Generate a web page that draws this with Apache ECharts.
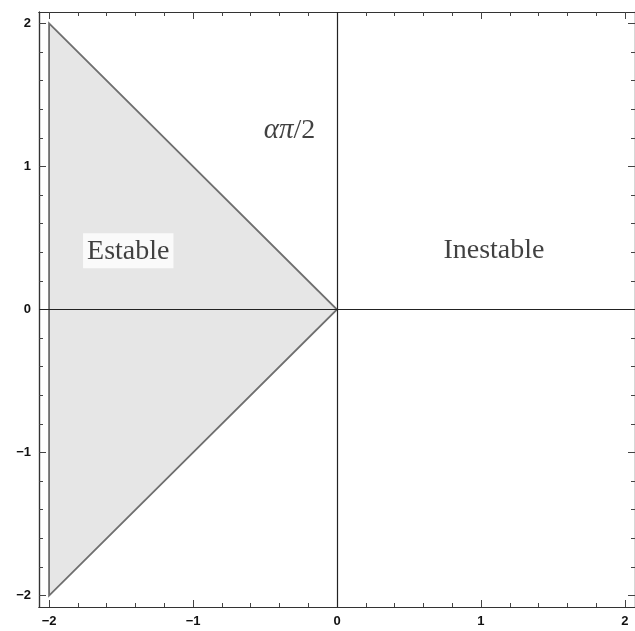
<!DOCTYPE html>
<html>
<head>
<meta charset="utf-8">
<script src="https://cdn.jsdelivr.net/npm/echarts@6/dist/echarts.min.js"></script>
<style>
  html, body { margin: 0; padding: 0; background: #ffffff; }
  #chart { width: 635px; height: 631px; }
</style>
</head>
<body>
<div id="chart"></div>
<script>
// Axis extents and ticks
const xRange = [-2.07, 2.07];
const yRange = [-2.08, 2.08];
const majorTicks = [-2, -1, 0, 1, 2];
const minorTicks = [-1.8, -1.6, -1.4, -1.2, -0.8, -0.6, -0.4, -0.2,
                    0.2, 0.4, 0.6, 0.8, 1.2, 1.4, 1.6, 1.8];

// Stability region: triangle with vertices (-2,2), (0,0), (-2,-2)
const regionX = [-2, 0, -2];
const regionY = [2, 0, -2];

// Text annotations placed in data coordinates
const noteText = ['Estable', 'Inestable', '{it|απ}{up|/2}'];
const noteX = [-1.45, 1.09, -0.33];
const noteY = [0.41, 0.41, 1.25];

const fmt = v => (v < 0 ? '\u2212' + Math.abs(v) : String(v));
const tickColor = '#444';
const labelStyle = { fontFamily: 'Liberation Sans', fontWeight: 'bold', fontSize: 13, color: '#111' };

function xAxisDef(position, ticks, len, showLabel) {
  return {
    type: 'value', min: xRange[0], max: xRange[1], position: position,
    axisLine: { show: true, onZero: false, lineStyle: { color: '#333', width: 1.2 } },
    axisTick: { show: true, inside: true, length: len, customValues: ticks, lineStyle: { color: tickColor, width: 1 } },
    axisLabel: showLabel ? Object.assign({ show: true, customValues: ticks, formatter: fmt, margin: 8 }, labelStyle) : { show: false },
    splitLine: { show: false }
  };
}
function yAxisDef(position, ticks, len, showLabel) {
  return {
    type: 'value', min: yRange[0], max: yRange[1], position: position,
    axisLine: { show: true, onZero: false, lineStyle: { color: '#333', width: 1.2 } },
    axisTick: { show: true, inside: true, length: len, customValues: ticks, lineStyle: { color: tickColor, width: 1 } },
    axisLabel: showLabel ? Object.assign({ show: true, customValues: ticks, formatter: fmt, margin: 8 }, labelStyle) : { show: false },
    splitLine: { show: false }
  };
}

const chart = echarts.init(document.getElementById('chart'), null, { renderer: 'canvas' });

const serif = 'Liberation Serif';

const option = {
  animation: false,
  backgroundColor: '#ffffff',
  grid: { left: 39, right: -3, top: 12, bottom: 24 },
  xAxis: [
    xAxisDef('bottom', majorTicks, 7, true),
    xAxisDef('bottom', minorTicks, 4, false),
    xAxisDef('top', majorTicks, 7, false),
    xAxisDef('top', minorTicks, 4, false)
  ],
  yAxis: [
    yAxisDef('left', majorTicks, 7, true),
    yAxisDef('left', minorTicks, 4, false),
    yAxisDef('right', majorTicks, 7, false),
    yAxisDef('right', minorTicks, 4, false)
  ],
  series: [
    {
      type: 'custom',
      xAxisIndex: 0, yAxisIndex: 0,
      data: [0],
      z: 2,
      renderItem: function (params, api) {
        const pts = regionX.map((x, i) => api.coord([x, regionY[i]]));
        return {
          type: 'polygon',
          shape: { points: pts },
          style: { fill: '#e6e6e6', stroke: '#6f6f6f', lineWidth: 1.8 }
        };
      }
    },
    {
      // coordinate axes through the origin
      type: 'line',
      xAxisIndex: 0, yAxisIndex: 0,
      data: [],
      markLine: {
        silent: true,
        symbol: 'none',
        label: { show: false },
        lineStyle: { color: '#222', width: 1.2, type: 'solid' },
        data: [{ xAxis: 0 }, { yAxis: 0 }]
      },
      z: 3
    },
    {
      type: 'scatter',
      xAxisIndex: 0, yAxisIndex: 0,
      symbolSize: 0,
      z: 5,
      data: noteText.map((t, i) => ({
        value: [noteX[i], noteY[i]],
        label: i === 0 ? { backgroundColor: '#ffffff', padding: [4, 4, 3, 4] } : {}
      })),
      label: {
        show: true,
        position: 'inside',
        formatter: p => noteText[p.dataIndex],
        fontFamily: serif,
        fontSize: 28,
        color: '#111',
        rich: {
          it: { fontFamily: serif, fontStyle: 'italic', fontSize: 29, color: '#111' },
          up: { fontFamily: serif, fontSize: 28, color: '#111' }
        }
      }
    }
  ]
};

chart.setOption(option);
</script>
</body>
</html>
